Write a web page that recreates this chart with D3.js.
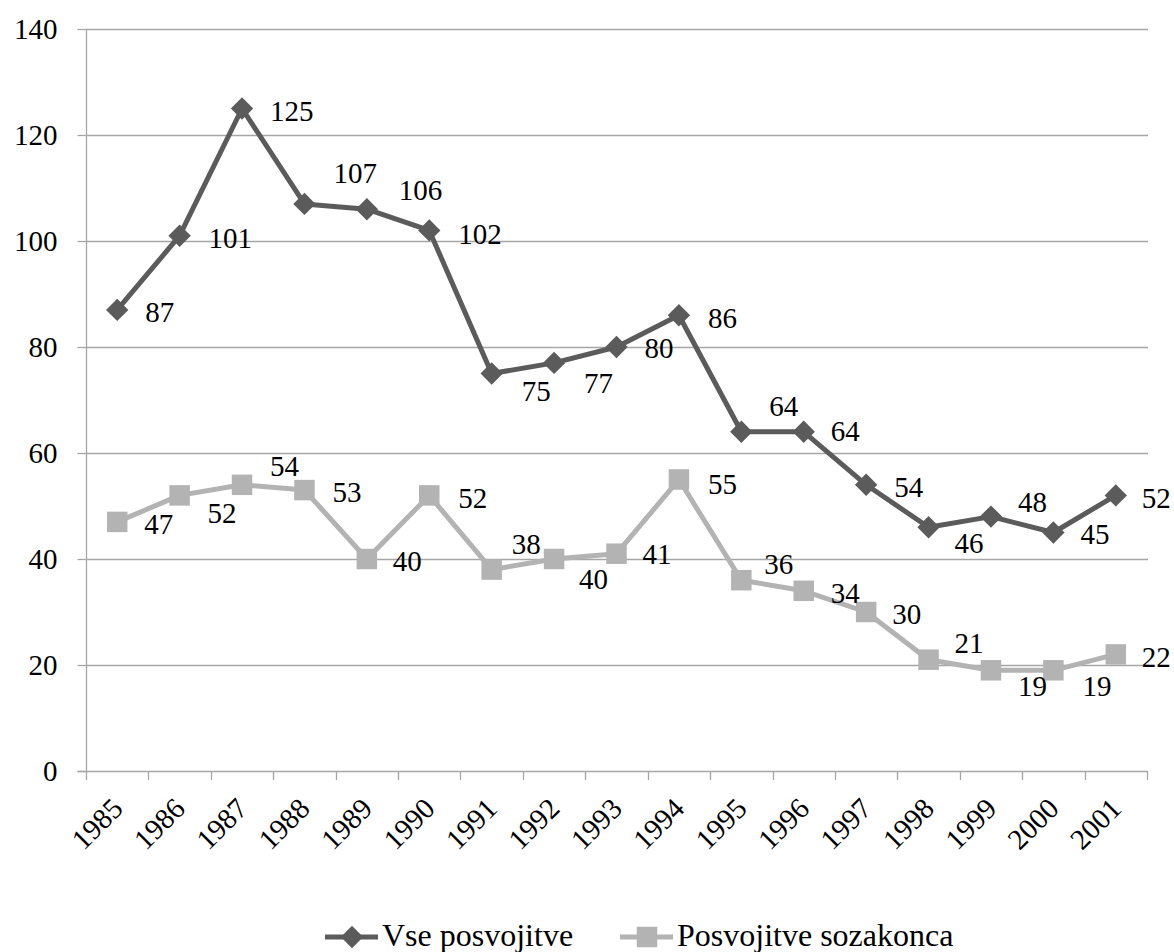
<!DOCTYPE html>
<html>
<head>
<meta charset="utf-8">
<script src="https://cdn.jsdelivr.net/npm/d3@7"></script>
</head>
<body style="margin:0;background:#fff">
<svg id="chart" width="1174" height="952" style="display:block"></svg>
<script>
// Adoptions per year, 1985–2001
const years = ["1985","1986","1987","1988","1989","1990","1991","1992","1993","1994","1995","1996","1997","1998","1999","2000","2001"];
const allAdoptions = [87,101,125,107,106,102,75,77,80,86,64,64,54,46,48,45,52];
const spouseAdoptions = [47,52,54,53,40,52,38,40,41,55,36,34,30,21,19,19,22];
const yTicks = [0,20,40,60,80,100,120,140];
const seriesNames = ["Vse posvojitve", "Posvojitve sozakonca"];

// Hand-placed data label nudges (px) so labels do not collide with lines
const allLabelDx = [28,29,28,29,32,29,30,30,28,29,28,27,28,26,27,27,26];
const allLabelDy = [2,2,2,-31,-19,3,17,20,1,3,-26,-1,2,16,-15,1,2];
const spouseLabelDx = [27,28,28,28,26,29,20,25,26,29,23,27,26,26,27,29,26];
const spouseLabelDy = [2,17,-19,2,2,2,-26,20,0,4,-16,2,2,-17,16,16,2];

(function () {
  const svg = d3.select("#chart");
  const serif = '"Liberation Serif", "Times New Roman", serif';
  const plotLeft = 86, plotRight = 1147, plotTop = 29, plotBottom = 771;
  const gridColor = "#a6a6a6";
  const darkColor = "#5b5b5b";
  const lightColor = "#b3b3b3";
  const fontSize = "29px";

  const x = d3.scaleBand().domain(years).range([plotLeft, plotRight]).padding(0);
  const y = d3.scaleLinear().domain([0, 140]).range([plotBottom, plotTop]);
  const cx = d => x(d) + x.bandwidth() / 2;

  // Horizontal gridlines
  svg.append("g")
    .selectAll("line")
    .data(yTicks.filter(t => t > 0))
    .join("line")
    .attr("x1", plotLeft).attr("x2", plotRight + 1)
    .attr("y1", d => Math.round(y(d)) + 0.5).attr("y2", d => Math.round(y(d)) + 0.5)
    .attr("stroke", gridColor).attr("stroke-width", 1.3);

  // Y axis
  const yAxis = svg.append("g")
    .attr("transform", `translate(${plotLeft + 0.5},0)`)
    .call(d3.axisLeft(y).tickValues(yTicks).tickSize(9).tickPadding(20).tickFormat(d3.format("d")));
  yAxis.select(".domain").attr("stroke", gridColor).attr("stroke-width", 1.3)
    .attr("d", `M-9,${plotBottom + 0.5}H0V${plotTop}`);
  yAxis.selectAll(".tick line").attr("stroke", gridColor).attr("stroke-width", 1.3);
  yAxis.selectAll(".tick text")
    .style("font-family", serif).style("font-size", fontSize).attr("fill", "#000");

  // X axis with boundary ticks between categories
  const xg = svg.append("g");
  xg.append("line")
    .attr("x1", plotLeft).attr("x2", plotRight + 1)
    .attr("y1", plotBottom + 0.5).attr("y2", plotBottom + 0.5)
    .attr("stroke", gridColor).attr("stroke-width", 1.3);
  const boundaries = years.map(d => x(d)).concat([x(years[years.length - 1]) + x.bandwidth()]);
  xg.selectAll("line.tk")
    .data(boundaries)
    .join("line")
    .attr("class", "tk")
    .attr("x1", d => Math.round(d) + 0.5).attr("x2", d => Math.round(d) + 0.5)
    .attr("y1", plotBottom).attr("y2", plotBottom + 9)
    .attr("stroke", gridColor).attr("stroke-width", 1.3);
  xg.selectAll("text")
    .data(years)
    .join("text")
    .attr("transform", d => `translate(${cx(d)},${plotBottom + 32}) rotate(-45)`)
    .attr("text-anchor", "end")
    .attr("dy", "0.35em")
    .style("font-family", serif).style("font-size", fontSize)
    .attr("fill", "#000")
    .text(d => d);

  // Lines
  const line = d3.line().x((d, i) => cx(years[i])).y(d => y(d));
  svg.append("path").datum(spouseAdoptions)
    .attr("d", line).attr("fill", "none")
    .attr("stroke", lightColor).attr("stroke-width", 5).attr("stroke-linejoin", "round");
  svg.append("path").datum(allAdoptions)
    .attr("d", line).attr("fill", "none")
    .attr("stroke", darkColor).attr("stroke-width", 5).attr("stroke-linejoin", "round");

  // Markers
  const diamond = d3.symbol().type(d3.symbolSquare).size(250);
  svg.append("g").selectAll("path")
    .data(allAdoptions)
    .join("path")
    .attr("d", diamond)
    .attr("transform", (d, i) => `translate(${cx(years[i])},${y(d)}) rotate(45)`)
    .attr("fill", darkColor);
  const square = d3.symbol().type(d3.symbolSquare).size(420);
  svg.append("g").selectAll("path")
    .data(spouseAdoptions)
    .join("path")
    .attr("d", square)
    .attr("transform", (d, i) => `translate(${cx(years[i])},${y(d)})`)
    .attr("fill", lightColor);

  // Data labels
  function labels(values, dxs, dys) {
    svg.append("g").selectAll("text")
      .data(values)
      .join("text")
      .attr("x", (d, i) => cx(years[i]) + dxs[i])
      .attr("y", (d, i) => y(d) + dys[i])
      .attr("dy", "0.35em")
      .style("font-family", serif).style("font-size", fontSize)
      .attr("fill", "#000")
      .text(d => d);
  }
  labels(spouseAdoptions, spouseLabelDx, spouseLabelDy);
  labels(allAdoptions, allLabelDx, allLabelDy);

  // Legend
  const legendY = 937;
  const legend = svg.append("g");
  const items = [
    { name: seriesNames[0], color: darkColor, x0: 325, sym: "diamond" },
    { name: seriesNames[1], color: lightColor, x0: 620, sym: "square" }
  ];
  items.forEach(it => {
    legend.append("line")
      .attr("x1", it.x0).attr("x2", it.x0 + 53)
      .attr("y1", legendY).attr("y2", legendY)
      .attr("stroke", it.color).attr("stroke-width", 5);
    legend.append("path")
      .attr("d", it.sym === "diamond" ? diamond : square)
      .attr("transform", `translate(${it.x0 + 27},${legendY})` + (it.sym === "diamond" ? " rotate(45)" : ""))
      .attr("fill", it.color);
    legend.append("text")
      .attr("x", it.x0 + 57).attr("y", legendY + 9)
      .style("font-family", serif).style("font-size", "32px")
      .attr("fill", "#000")
      .text(it.name);
  });
})();
</script>
</body>
</html>
